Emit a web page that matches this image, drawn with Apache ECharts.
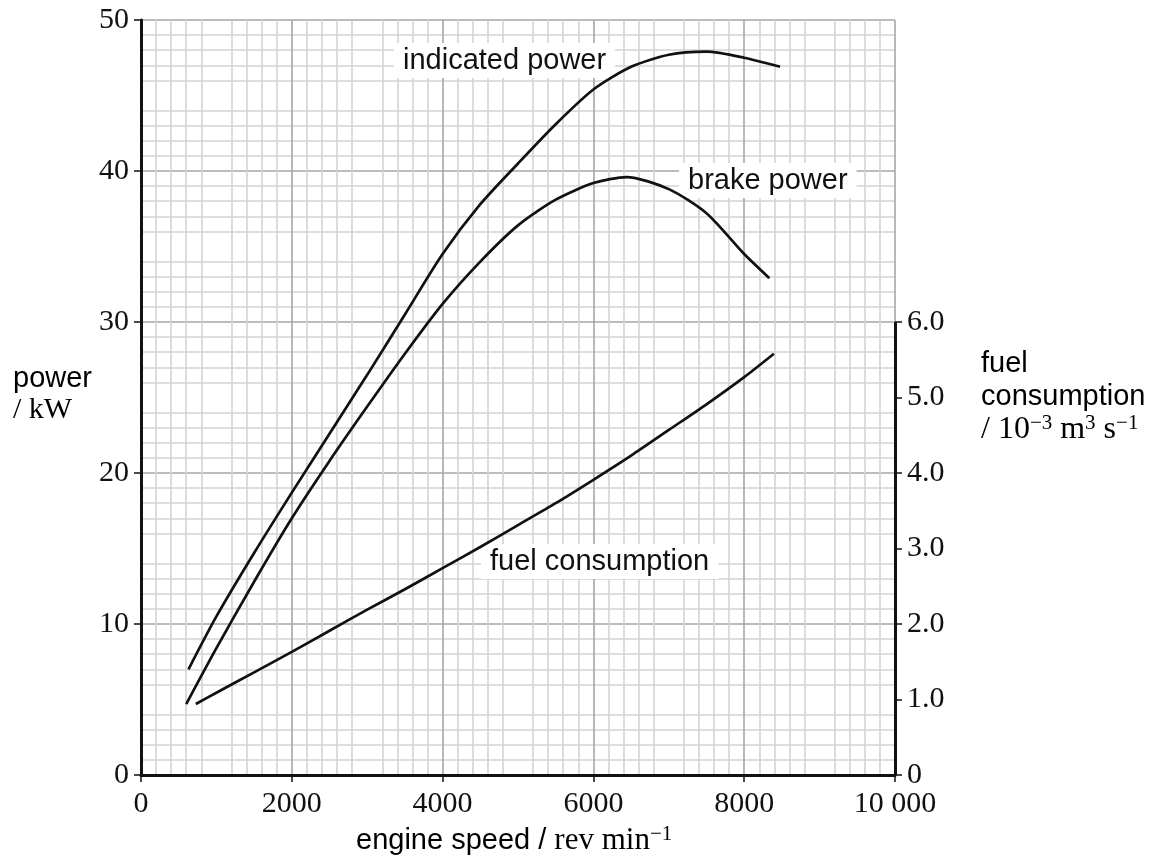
<!DOCTYPE html>
<html><head><meta charset="utf-8">
<script src="https://cdn.jsdelivr.net/npm/echarts@6/dist/echarts.min.js"></script>
<style>html,body{margin:0;padding:0;background:#fff}#c{width:1153px;height:860px}</style>
</head><body><div id="c"></div>
<script>
// engine speed / rev min^-1
const indicatedRpm = [630, 1000, 1500, 2000, 2500, 3000, 3500, 4000, 4500, 5000, 5500, 6000, 6500, 7000, 7500, 8000, 8475];
const indicatedKW  = [7.0, 10.5, 14.7, 18.7, 22.6, 26.5, 30.5, 34.5, 37.8, 40.5, 43.1, 45.4, 46.9, 47.7, 47.9, 47.5, 46.9];
const brakeRpm = [600, 1000, 1500, 2000, 2500, 3000, 3500, 4000, 4500, 5000, 5500, 6000, 6440, 7000, 7500, 8000, 8334];
const brakeKW  = [4.7, 8.4, 12.8, 17.0, 20.8, 24.4, 27.9, 31.2, 34.0, 36.4, 38.1, 39.2, 39.6, 38.8, 37.2, 34.5, 32.9];
const fuelRpm = [727, 1000, 1500, 2000, 2500, 3000, 3500, 4000, 4500, 5000, 5500, 6000, 6500, 7000, 7500, 8000, 8394];
const fuelVal = [0.94, 1.09, 1.36, 1.63, 1.91, 2.19, 2.46, 2.74, 3.02, 3.31, 3.60, 3.91, 4.23, 4.57, 4.91, 5.27, 5.58]; // 10^-3 m^3 s^-1
const xTickLabels = [0, 2000, 4000, 6000, 8000, 10000];
const powerTickLabels = [0, 10, 20, 30, 40, 50];
const fuelTickLabels = [0, 1, 2, 3, 4, 5, 6];
const fuelAxisTop = 6;

const pair = (xs, ys) => xs.map((x, i) => [x, ys[i]]);
const SERIF = '"Liberation Serif", "Times New Roman", serif';
const SANS = '"Liberation Sans", Arial, sans-serif';
const FS = 29;   // sans text
const FT = 30;   // serif tick labels
const C = '#111';

const chart = echarts.init(document.getElementById('c'), null, {renderer: 'canvas'});
const lineSeries = (name, yi, data) => ({
  name, type: 'line', xAxisIndex: 0, yAxisIndex: yi, data, smooth: 0.25,
  showSymbol: false, lineStyle: {color: C, width: 2.7}, z: 10
});
const fuel = lineSeries('fuel consumption', 1, pair(fuelRpm, fuelVal));
fuel.markLine = {
  silent: true, symbol: 'none', label: {show: false}, animation: false,
  lineStyle: {color: C, width: 3, type: 'solid'},
  data: [[{coord: [10000, 0]}, {coord: [10000, fuelAxisTop]}]]
};

chart.setOption({
  animation: false,
  backgroundColor: '#fff',
  grid: {left: 141, right: 258, top: 20, bottom: 85},
  xAxis: {
    type: 'value', min: 0, max: 10000, interval: 1000,
    axisLine: {show: true, onZero: false, lineStyle: {color: C, width: 3}},
    axisTick: {show: true, length: 7, customValues: xTickLabels, lineStyle: {color: C, width: 1.5}},
    axisLabel: {customValues: xTickLabels, color: C, fontFamily: SERIF, fontSize: FT, margin: 14,
      formatter: v => v === 10000 ? '10 000' : String(v)},
    splitLine: {show: true, lineStyle: {color: '#a6a6a6', width: 1.6}},
    minorTick: {show: false, splitNumber: 5},
    minorSplitLine: {show: true, lineStyle: {color: '#d3d3d3', width: 1.6}},
    z: 5
  },
  yAxis: [{
    type: 'value', min: 0, max: 50, interval: 5, position: 'left',
    axisLine: {show: true, onZero: false, lineStyle: {color: C, width: 3}},
    axisTick: {show: true, inside: false, length: 7, customValues: powerTickLabels, lineStyle: {color: C, width: 1.5}},
    axisLabel: {customValues: powerTickLabels, color: C, fontFamily: SERIF, fontSize: FT, margin: 12},
    splitLine: {show: true, lineStyle: {color: '#a6a6a6', width: 1.6}},
    minorTick: {show: false, splitNumber: 5},
    minorSplitLine: {show: true, lineStyle: {color: '#d3d3d3', width: 1.6}},
    z: 5
  }, {
    type: 'value', min: 0, max: 10, interval: 1, position: 'right', alignTicks: false,
    axisLine: {show: false, onZero: false},
    axisTick: {show: true, inside: false, length: 7, customValues: fuelTickLabels, lineStyle: {color: C, width: 1.5}},
    axisLabel: {customValues: fuelTickLabels, color: C, fontFamily: SERIF, fontSize: FT, margin: 12,
      formatter: v => v === 0 ? '0' : v.toFixed(1)},
    splitLine: {show: false},
    minorTick: {show: false},
    minorSplitLine: {show: false},
    z: 5
  }],
  series: [
    lineSeries('indicated power', 0, pair(indicatedRpm, indicatedKW)),
    lineSeries('brake power', 0, pair(brakeRpm, brakeKW)),
    fuel
  ],
  graphic: [
    {type: 'text', left: 394, top: 43, z: 8, style: {text: 'indicated power', font: FS + 'px ' + SANS, fill: C,
      backgroundColor: '#fff', padding: [3, 9, 3, 9]}},
    {type: 'text', left: 679, top: 163, z: 8, style: {text: 'brake power', font: FS + 'px ' + SANS, fill: C,
      backgroundColor: '#fff', padding: [3, 9, 3, 9]}},
    {type: 'text', left: 481, top: 544, z: 8, style: {text: 'fuel consumption', font: FS + 'px ' + SANS, fill: C,
      backgroundColor: '#fff', padding: [3, 9, 3, 9]}},
    {type: 'text', left: 13, top: 364, z: 20, style: {
      text: '{a|power}\n{b|/ kW}',
      rich: {a: {fontFamily: SANS, fontSize: FS, lineHeight: 32, color: C},
             b: {fontFamily: SERIF, fontSize: 30, lineHeight: 32, color: C}}}},
    {type: 'text', left: 981, top: 349, z: 20, style: {
      text: '{a|fuel}\n{a|consumption}\n{b|/ 10}{s|−3}{b| m}{s|3}{b| s}{s|−1}',
      rich: {a: {fontFamily: SANS, fontSize: FS, lineHeight: 33, color: C},
             b: {fontFamily: SERIF, fontSize: 32, lineHeight: 33, color: C},
             s: {fontFamily: SERIF, fontSize: 21, lineHeight: 22, verticalAlign: 'top', color: C}}}},
    {type: 'text', left: 356, top: 824, z: 20, style: {
      text: '{a|engine speed / }{b|rev min}{s|−1}',
      rich: {a: {fontFamily: SANS, fontSize: FS, lineHeight: 34, color: C},
             b: {fontFamily: SERIF, fontSize: 31, lineHeight: 34, color: C},
             s: {fontFamily: SERIF, fontSize: 21, lineHeight: 22, verticalAlign: 'top', color: C}}}}
  ]
});
</script></body></html>
